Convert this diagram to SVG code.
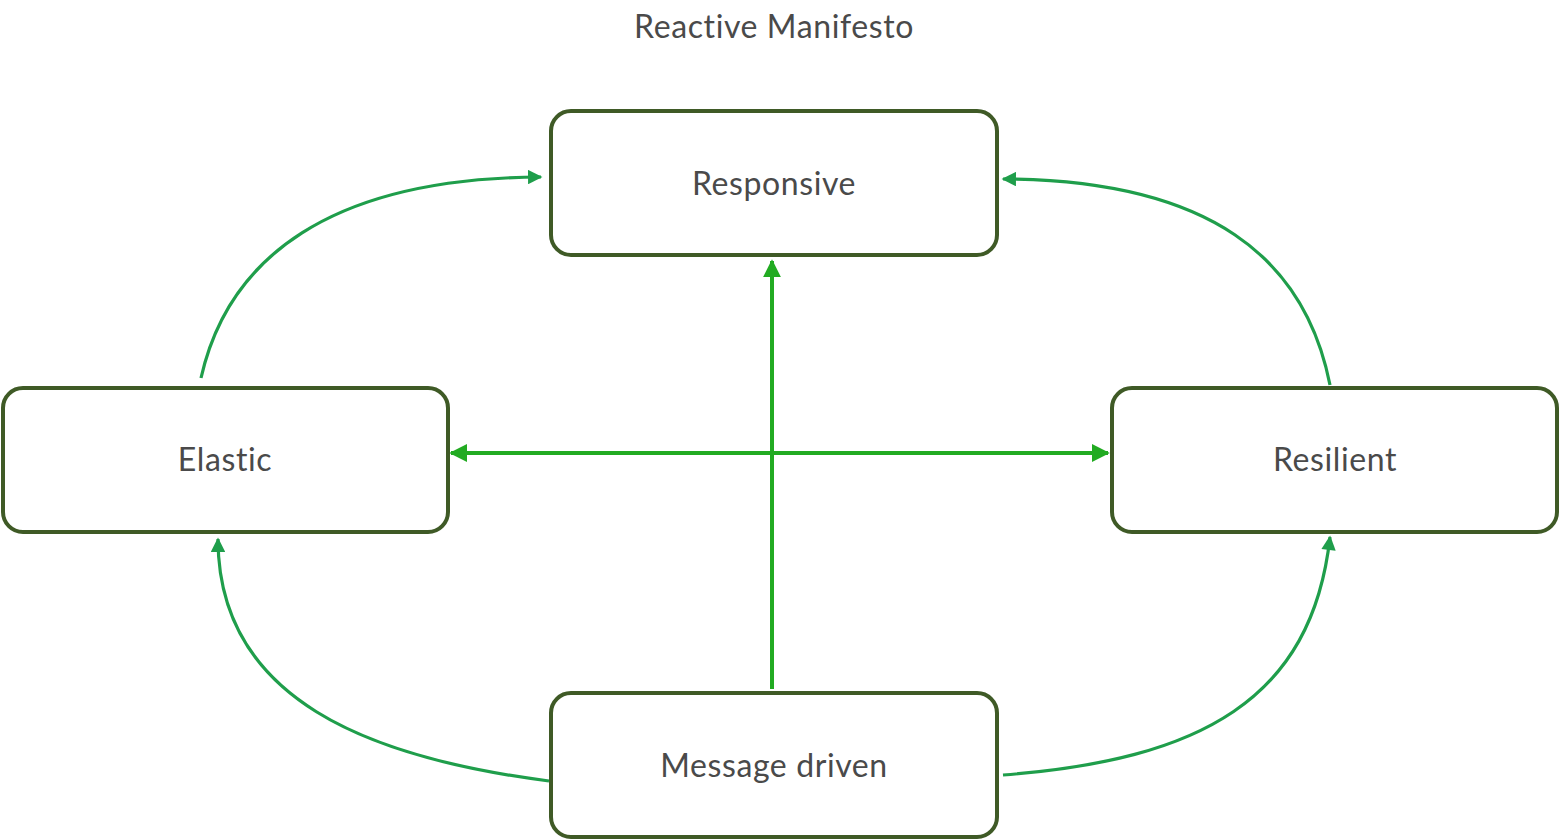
<svg xmlns="http://www.w3.org/2000/svg" width="1560" height="840" viewBox="0 0 1560 840">
<style>
.box{fill:#ffffff;stroke:#3f5a26;stroke-width:4}
.lbl{font-family:Lato,"Noto Sans",sans-serif;font-size:32px;letter-spacing:0.6px;fill:#4a4a4a;text-anchor:middle;dominant-baseline:central}
.curve{fill:none;stroke:#1f9e4b;stroke-width:3.2}
.straight{fill:none;stroke:#22ab22;stroke-width:4}
</style>
<defs>
<marker id="ac" viewBox="0 0 10 10" refX="9" refY="5" markerWidth="5" markerHeight="4.5" markerUnits="strokeWidth" orient="auto-start-reverse"><path d="M0,0 L10,5 L0,10 z" fill="#1f9e4b"/></marker>
<marker id="as" viewBox="0 0 10 10" refX="9" refY="5" markerWidth="4.5" markerHeight="4.5" markerUnits="strokeWidth" orient="auto-start-reverse"><path d="M0,0 L10,5 L0,10 z" fill="#22ab22"/></marker>
</defs>
<rect width="1560" height="840" fill="#ffffff"/>
<text class="lbl" x="774" y="25">Reactive Manifesto</text>
<g id="connectors">
<path class="curve" d="M201,378 C228,258 330,178 541,177" marker-end="url(#ac)"/>
<path class="curve" d="M1330,385 C1305,258 1210,180 1003,179" marker-end="url(#ac)"/>
<path class="curve" d="M549,781 C370,758 218,700 218,539" marker-end="url(#ac)"/>
<path class="curve" d="M1003,775 C1200,760 1312,700 1330,537" marker-end="url(#ac)"/>
<path class="straight" d="M772,689 L772,261" marker-end="url(#as)"/>
<path class="straight" d="M451,453 L1108,453" marker-start="url(#as)" marker-end="url(#as)"/>
</g>
<g id="responsive"><rect class="box" x="551" y="111" width="446" height="144" rx="20"/><text class="lbl" x="774" y="182">Responsive</text></g>
<g id="elastic"><rect class="box" x="3" y="388" width="445" height="144" rx="20"/><text class="lbl" x="225" y="458">Elastic</text></g>
<g id="resilient"><rect class="box" x="1112" y="388" width="445" height="144" rx="20"/><text class="lbl" x="1335" y="458">Resilient</text></g>
<g id="message-driven"><rect class="box" x="551" y="693" width="446" height="144" rx="20"/><text class="lbl" x="774" y="764">Message driven</text></g>
</svg>
